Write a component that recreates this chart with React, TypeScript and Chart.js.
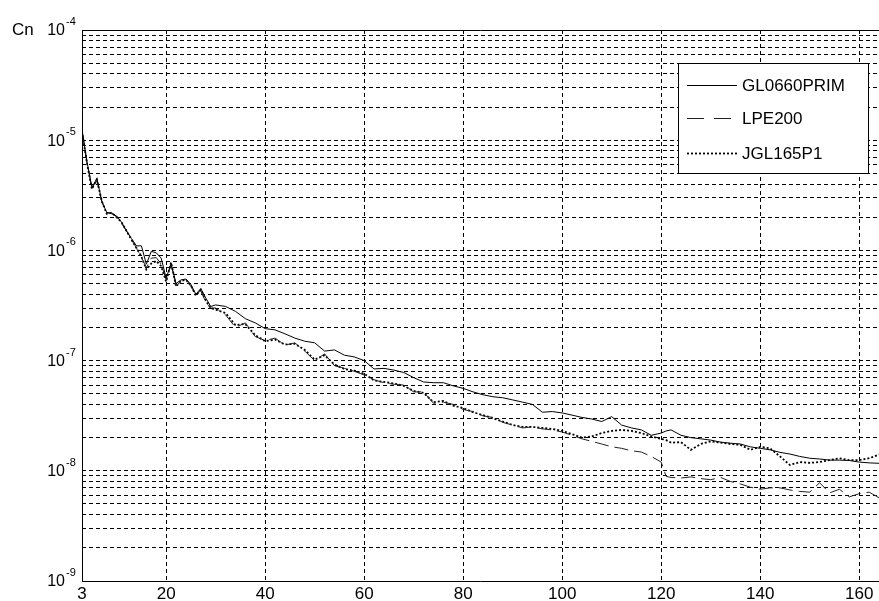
import React, { useEffect, useRef } from "react";
import { Chart, registerables } from "chart.js";
Chart.register(...registerables);

const N = [
  3, 4, 5, 6, 7, 8, 9, 10, 11, 12,
  13, 14, 15, 16, 17, 18, 19, 20, 21, 22,
  23, 24, 25, 26, 27, 28, 29, 30,
  32, 34, 36, 38, 40, 42, 44, 46, 48, 50,
  52, 54, 56, 58, 60, 62, 64, 66, 68, 70,
  72, 74, 76, 78, 80, 82, 84, 86, 88, 90,
  92, 94, 96, 98, 100, 102, 104, 106, 108, 110,
  112, 114, 116, 118, 120,
  121,
  122, 124, 126, 128, 130, 132, 134, 136, 138, 140,
  142, 144, 146, 148, 150, 152, 154, 156, 158, 160, 162, 164,
];

const GL0660PRIM = [
  1.25e-5, 6.4e-6, 3.7e-6, 4.5e-6, 2.8e-6, 2.2e-6, 2.15e-6, 2.05e-6, 1.8e-6, 1.5e-6,
  1.28e-6, 1.1e-6, 1.1e-6, 7.5e-7, 9.8e-7, 9.5e-7, 8.5e-7, 5.6e-7, 7.6e-7, 5.0e-7,
  5.4e-7, 5.5e-7, 4.9e-7, 4.0e-7, 4.5e-7, 3.7e-7, 3.1e-7, 3.2e-7,
  3.1e-7, 2.8e-7, 2.4e-7, 2.2e-7, 1.95e-7, 1.9e-7, 1.75e-7, 1.6e-7, 1.5e-7, 1.45e-7,
  1.22e-7, 1.25e-7, 1.12e-7, 1.08e-7, 1.0e-7, 8.4e-8, 8.5e-8, 8.2e-8, 7.8e-8, 7.0e-8,
  6.4e-8, 6.3e-8, 6.3e-8, 5.9e-8, 5.6e-8, 5.2e-8, 4.9e-8, 4.7e-8, 4.6e-8, 4.4e-8,
  4.2e-8, 4.0e-8, 3.4e-8, 3.45e-8, 3.35e-8, 3.2e-8, 3.05e-8, 2.95e-8, 2.8e-8, 3.1e-8,
  2.6e-8, 2.45e-8, 2.35e-8, 2.1e-8, 2.2e-8,
  2.3e-8,
  2.35e-8, 2.1e-8, 2.0e-8, 1.95e-8, 1.9e-8, 1.82e-8, 1.78e-8, 1.75e-8, 1.65e-8, 1.6e-8,
  1.55e-8, 1.47e-8, 1.42e-8, 1.35e-8, 1.3e-8, 1.28e-8, 1.25e-8, 1.25e-8, 1.24e-8, 1.2e-8, 1.18e-8, 1.17e-8,
];

const LPE200 = [
  1.22e-5, 6.3e-6, 3.7e-6, 4.3e-6, 2.75e-6, 2.2e-6, 2.2e-6, 2.0e-6, 1.75e-6, 1.5e-6,
  1.25e-6, 1.05e-6, 8.6e-7, 7.0e-7, 8.5e-7, 8.6e-7, 7.5e-7, 5.4e-7, 7.4e-7, 4.8e-7,
  5.2e-7, 5.5e-7, 4.7e-7, 4.0e-7, 4.3e-7, 3.4e-7, 3.0e-7, 3.0e-7,
  2.6e-7, 2.0e-7, 2.2e-7, 1.65e-7, 1.52e-7, 1.6e-7, 1.38e-7, 1.45e-7, 1.22e-7, 1.0e-7,
  1.15e-7, 9.0e-8, 8.5e-8, 8.0e-8, 7.4e-8, 6.7e-8, 6.3e-8, 6.1e-8, 6.0e-8, 5.2e-8,
  5.2e-8, 4.1e-8, 4.2e-8, 4.0e-8, 3.6e-8, 3.45e-8, 3.15e-8, 3.05e-8, 2.75e-8, 2.6e-8,
  2.45e-8, 2.5e-8, 2.4e-8, 2.35e-8, 2.25e-8, 2.1e-8, 1.95e-8, 1.85e-8, 1.75e-8, 1.65e-8,
  1.6e-8, 1.52e-8, 1.48e-8, 1.35e-8, 1.2e-8,
  8.9e-9,
  8.7e-9, 8.6e-9, 8.8e-9, 8.5e-9, 8.3e-9, 8.7e-9, 8.0e-9, 7.6e-9, 7.1e-9, 6.8e-9,
  7.0e-9, 7.0e-9, 6.7e-9, 6.5e-9, 6.4e-9, 7.8e-9, 6.3e-9, 6.8e-9, 5.8e-9, 6.2e-9, 6.4e-9, 5.7e-9,
];

const JGL165P1 = [
  1.2e-5, 6.2e-6, 3.6e-6, 4.4e-6, 2.8e-6, 2.15e-6, 2.2e-6, 2.0e-6, 1.8e-6, 1.5e-6,
  1.25e-6, 1.05e-6, 8.8e-7, 6.7e-7, 7.6e-7, 8.0e-7, 7.2e-7, 5.2e-7, 7.8e-7, 4.7e-7,
  5.3e-7, 5.4e-7, 4.8e-7, 3.9e-7, 4.4e-7, 3.5e-7, 3.0e-7, 2.9e-7,
  2.7e-7, 2.1e-7, 2.15e-7, 1.7e-7, 1.5e-7, 1.55e-7, 1.4e-7, 1.42e-7, 1.25e-7, 1.02e-7,
  1.12e-7, 9.2e-8, 8.4e-8, 8.1e-8, 7.6e-8, 6.6e-8, 6.4e-8, 6.2e-8, 5.9e-8, 5.3e-8,
  5.1e-8, 4.2e-8, 4.3e-8, 3.9e-8, 3.7e-8, 3.4e-8, 3.2e-8, 3.0e-8, 2.8e-8, 2.6e-8,
  2.5e-8, 2.5e-8, 2.45e-8, 2.4e-8, 2.3e-8, 2.15e-8, 2.0e-8, 2.05e-8, 2.2e-8, 2.3e-8,
  2.35e-8, 2.3e-8, 2.2e-8, 2.05e-8, 1.95e-8,
  1.9e-8,
  1.8e-8, 1.82e-8, 1.55e-8, 1.75e-8, 1.85e-8, 1.8e-8, 1.75e-8, 1.72e-8, 1.55e-8, 1.65e-8,
  1.6e-8, 1.35e-8, 1.13e-8, 1.2e-8, 1.18e-8, 1.2e-8, 1.25e-8, 1.3e-8, 1.25e-8, 1.25e-8, 1.3e-8, 1.4e-8,
];

const X_TICKS = [3, 20, 40, 60, 80, 100, 120, 140, 160];
const Y_EXPONENTS = [-9, -8, -7, -6, -5, -4];
const Y_MINOR = [1, 2, 3, 4, 5, 6, 7, 8, 9];
const Y_LABEL = "Cn";

const FONT = "'Liberation Sans', Arial, sans-serif";

function buildYTicks() {
  const ticks: { value: number }[] = [];
  for (let i = 0; i < Y_EXPONENTS.length; i++) {
    const k = Y_EXPONENTS[i];
    if (i === Y_EXPONENTS.length - 1) {
      ticks.push({ value: Math.pow(10, k) });
    } else {
      for (const m of Y_MINOR) ticks.push({ value: m * Math.pow(10, k) });
    }
  }
  return ticks;
}

const LEGEND_DASH: Record<string, number[]> = {
  GL0660PRIM: [],
  LPE200: [17, 10],
  JGL165P1: [2, 2],
};

const decorPlugin = {
  id: "decor",
  afterDraw(chart: any) {
    const { ctx, chartArea, scales } = chart;
    const { left, right, top, bottom } = chartArea;
    ctx.save();
    // frame
    ctx.strokeStyle = "#000";
    ctx.lineWidth = 1;
    ctx.setLineDash([]);
    ctx.beginPath();
    ctx.moveTo(Math.round(left) + 0.5, Math.round(top) + 0.5);
    ctx.lineTo(Math.round(right), Math.round(top) + 0.5);
    ctx.moveTo(Math.round(left) + 0.5, Math.round(top) + 0.5);
    ctx.lineTo(Math.round(left) + 0.5, Math.round(bottom) + 0.5);
    ctx.lineTo(Math.round(right), Math.round(bottom) + 0.5);
    ctx.stroke();

    // y labels 10^k
    ctx.fillStyle = "#000";
    for (const k of Y_EXPONENTS) {
      const y = scales.y.getPixelForValue(Math.pow(10, k));
      ctx.font = `16px ${FONT}`;
      ctx.textAlign = "right";
      ctx.textBaseline = "middle";
      ctx.fillText("10", left - 17, y + 1);
      ctx.font = `11px ${FONT}`;
      ctx.textAlign = "left";
      ctx.textBaseline = "alphabetic";
      ctx.fillText(String(k), left - 16, y - 5);
    }

    // axis label
    ctx.font = `17px ${FONT}`;
    ctx.textAlign = "left";
    ctx.textBaseline = "alphabetic";
    ctx.fillText(Y_LABEL, 12, 35);

    // legend
    const bx = 678, by = 63, bw = 190, bh = 110;
    ctx.fillStyle = "#fff";
    ctx.fillRect(bx, by, bw, bh);
    ctx.strokeStyle = "#000";
    ctx.lineWidth = 1;
    ctx.strokeRect(bx + 0.5, by + 0.5, bw, bh);
    const rows = [85, 118, 153];
    chart.data.datasets.forEach((ds: any, i: number) => {
      const y = rows[i];
      ctx.save();
      ctx.strokeStyle = ds.borderColor;
      ctx.lineWidth = ds.borderWidth;
      ctx.setLineDash(LEGEND_DASH[ds.label] || []);
      ctx.beginPath();
      ctx.moveTo(687, y + 0.5);
      ctx.lineTo(737, y + 0.5);
      ctx.stroke();
      ctx.restore();
      ctx.fillStyle = "#000";
      ctx.font = `17px ${FONT}`;
      ctx.textAlign = "left";
      ctx.textBaseline = "middle";
      ctx.fillText(ds.label, 742, y + 1);
    });
    ctx.restore();
  },
};

export default function App() {
  const ref = useRef<HTMLCanvasElement | null>(null);
  useEffect(() => {
    if (!ref.current) return;
    const mk = (vals: number[]) => N.map((x, i) => ({ x, y: vals[i] }));
    const chart = new Chart(ref.current, {
      type: "line",
      data: {
        datasets: [
          {
            label: "GL0660PRIM",
            data: mk(GL0660PRIM),
            borderColor: "#000",
            borderWidth: 1,
            pointRadius: 0,
            tension: 0,
            fill: false,
          },
          {
            label: "LPE200",
            data: mk(LPE200),
            borderColor: "#222",
            borderWidth: 1,
            borderDash: [14, 6],
            pointRadius: 0,
            tension: 0,
            fill: false,
          },
          {
            label: "JGL165P1",
            data: mk(JGL165P1),
            borderColor: "#000",
            borderWidth: 1.8,
            borderDash: [2, 2],
            pointRadius: 0,
            tension: 0,
            fill: false,
          },
        ],
      },
      options: {
        animation: false,
        responsive: false,
        devicePixelRatio: 1,
        layout: { padding: { top: 30, left: 0, right: 0, bottom: 0 } },
        plugins: {
          legend: { display: false },
          tooltip: { enabled: false },
        },
        scales: {
          x: {
            type: "linear",
            min: 3,
            max: 164,
            afterBuildTicks: (s: any) => {
              s.ticks = X_TICKS.map((v) => ({ value: v }));
            },
            afterFit: (s: any) => {
              s.height = 20;
            },
            ticks: {
              autoSkip: false,
              maxRotation: 0,
              padding: 3,
              color: "#000",
              font: { family: FONT, size: 17 },
            },
            grid: {
              drawTicks: false,
              color: (c: any) => (c.tick && c.tick.value === 3 ? "rgba(0,0,0,0)" : "#000"),
              lineWidth: 1,
            },
            border: { display: false, dash: [4, 3] },
          },
          y: {
            type: "logarithmic",
            min: 1e-9,
            max: 1e-4,
            afterBuildTicks: (s: any) => {
              s.ticks = buildYTicks();
            },
            afterFit: (s: any) => {
              s.width = 82;
            },
            ticks: { display: false },
            grid: { drawTicks: false, color: "#000", lineWidth: 1 },
            border: { display: false, dash: [4, 3] },
          },
        },
      },
      plugins: [decorPlugin],
    } as any);
    return () => chart.destroy();
  }, []);
  return (
    <div style={{ position: "fixed", left: 0, top: 0, width: 879, height: 601, background: "#fff" }}>
      <canvas ref={ref} width={879} height={601} style={{ display: "block" }} />
    </div>
  );
}
